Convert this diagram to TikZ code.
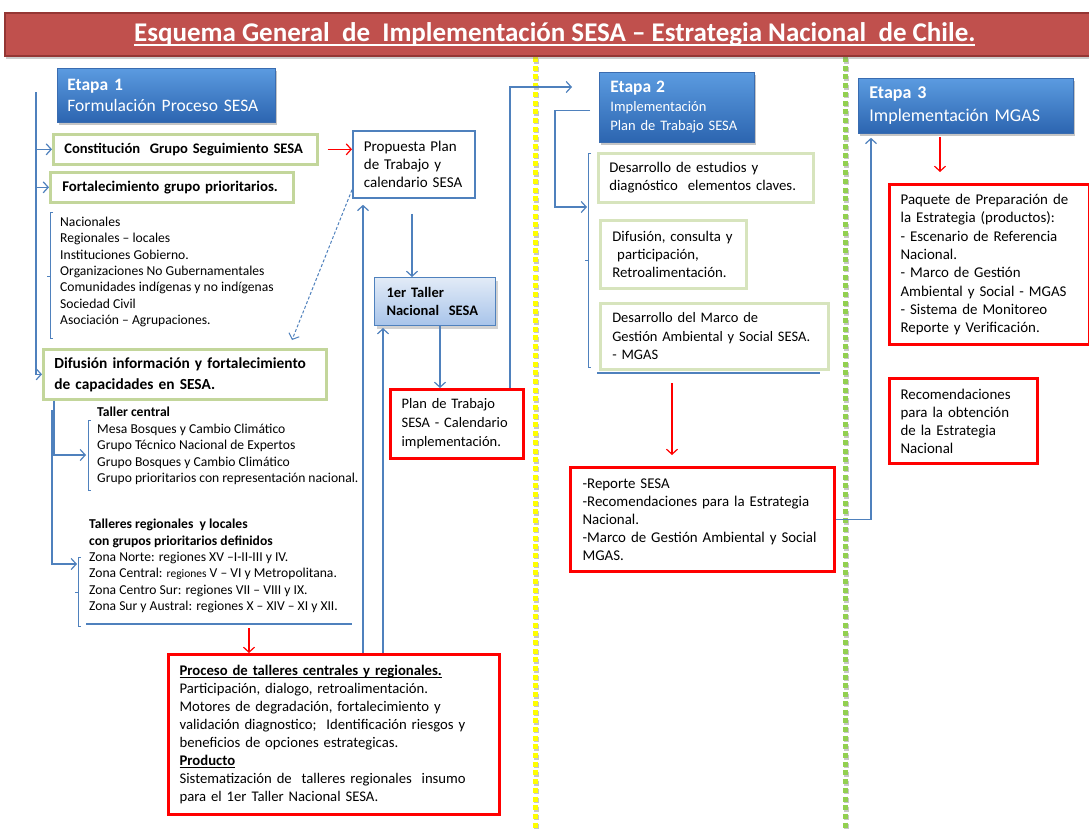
\documentclass[tikz,border=0pt]{standalone}
\usepackage{fontspec}
\setmainfont{Carlito}
\usetikzlibrary{arrows.meta,shadows,calc}
\definecolor{cblue}{HTML}{4F81BD}
\definecolor{gline}{HTML}{C3D69B}
\definecolor{gline2}{HTML}{D7E4BD}
\definecolor{titlered}{HTML}{C0504D}
\definecolor{titleedge}{HTML}{943634}
\definecolor{stagetop}{HTML}{5B9BE0}
\definecolor{stagebot}{HTML}{2C65B0}
\definecolor{stageedge}{HTML}{3A6CB0}
\definecolor{tallertop}{HTML}{E2EBF7}
\definecolor{tallerbot}{HTML}{A8C4EA}
\definecolor{sepyellow}{HTML}{FFFF00}
\definecolor{sepgreen}{HTML}{92D050}
% underline with chosen thickness (#1) and depth below the baseline (#2)
\newsavebox\ulinebox
\newcommand\ulineby[3]{\leavevmode\sbox\ulinebox{#3}\rlap{\rule[-#2]{\wd\ulinebox}{#1}}\usebox\ulinebox}
\begin{document}
\begin{tikzpicture}[x=1pt,y=-1pt,
  box/.style={rectangle, anchor=north west, inner xsep=11pt, inner ysep=0pt, align=left, fill=white},
  greenbox/.style={box, draw=gline, line width=2.6pt},
  palebox/.style={box, draw=gline2, line width=2.6pt},
  redbox/.style={box, draw=red, line width=3.2pt},
  bluebox/.style={box, draw=cblue, line width=1.8pt},
  stagebox/.style={box, draw=stageedge, line width=0.8pt, top color=stagetop, bottom color=stagebot,
    text=white, drop shadow={opacity=0.45, shadow xshift=2pt, shadow yshift=-3pt}},
  tallerbox/.style={box, draw=cblue, line width=1pt, top color=tallertop, bottom color=tallerbot,
    drop shadow={opacity=0.35, shadow xshift=2pt, shadow yshift=-3pt}},
  titlebar/.style={rectangle, anchor=north west, fill=titlered, draw=titleedge, line width=1.5pt,
    drop shadow={opacity=0.4, shadow xshift=1pt, shadow yshift=-3pt}, text=white, inner sep=0pt},
  freetext/.style={anchor=west, inner sep=0pt, align=left},
  conn/.style={draw=cblue, line width=1.2pt},
  arr/.style={conn, -{Straight Barb[length=5pt,width=11pt]}},
  redarr/.style={draw=red, line width=1.2pt, -{Straight Barb[length=5pt,width=11pt]}},
  bracket/.style={draw=cblue, line width=1pt},
  body/.style={font=\fontsize{14.8}{18.3}\selectfont},
]
\useasboundingbox (0,0) rectangle (1089,831);
\fill[white] (0,0) rectangle (1089,831);

% dotted stage separators with a soft shadow
\foreach \xx/\cc in {535/sepyellow, 845/sepgreen} {
  \draw[line width=5pt, black!22, dash pattern=on 5pt off 3.7pt] (\xx+1.5,58.5) -- (\xx+1.5,833);
  \draw[line width=5pt, \cc, dash pattern=on 5pt off 3.7pt] (\xx,57) -- (\xx,831);
}

% title
\node[titlebar, minimum width=1100pt, minimum height=43pt,
  font=\bfseries\fontsize{27}{30}\selectfont] (title) at (4,12)
  {\ulineby{1.7pt}{4.5pt}{Esquema General~ de~ Implementación SESA – Estrategia Nacional~ de Chile.}};

% ---------------- Etapa 1 ----------------
\node[stagebox, minimum width=218pt, minimum height=54pt, inner xsep=10pt, text width=198pt,
  font=\fontsize{17.5}{21}\selectfont] (et1) at (57,68) {\textbf{Etapa 1}\\Formulación Proceso SESA};

\node[greenbox, minimum width=264pt, minimum height=30pt, text width=242pt,
  font=\bfseries\fontsize{14.6}{16}\selectfont] (constit) at (52,133) {Constitución~ Grupo Seguimiento SESA};
\node[greenbox, minimum width=243pt, minimum height=30pt, inner xsep=12pt, text width=219pt,
  font=\bfseries\fontsize{14.8}{16}\selectfont] (fortal) at (49,171) {Fortalecimiento grupo prioritarios.};

\node[freetext, font=\fontsize{13.6}{16.35}\selectfont] (grupos) at (60,272)
  {Nacionales\\Regionales – locales\\Instituciones Gobierno.\\Organizaciones No Gubernamentales\\
   Comunidades indígenas y no indígenas\\Sociedad Civil\\Asociación – Agrupaciones.};

\node[greenbox, minimum width=283pt, minimum height=50pt, text width=261pt,
  font=\bfseries\fontsize{15.4}{21}\selectfont] (difus) at (42,348)
  {Difusión información y fortalecimiento\\de capacidades en SESA.};

\node[freetext, font=\fontsize{13.6}{16.5}\selectfont] (central) at (97,446)
  {\textbf{Taller central}\\Mesa Bosques y Cambio Climático\\Grupo Técnico Nacional de Expertos\\
   Grupo Bosques y Cambio Climático\\Grupo prioritarios con representación nacional.};

\node[freetext, font=\fontsize{13.6}{16.4}\selectfont] (zonas) at (89,566)
  {\textbf{Talleres regionales~ y locales}\\\textbf{con grupos prioritarios definidos}\\
   Zona Norte: regiones XV –I-II-III y IV.\\
   Zona Central: {\fontsize{11.5}{16.4}\selectfont regiones} V – VI y Metropolitana.\\
   Zona Centro Sur: regiones VII – VIII y IX.\\
   Zona Sur y Austral: regiones X – XIV – XI y XII.};

\node[bluebox, minimum width=122pt, minimum height=67pt, text width=100pt,
  font=\fontsize{15}{18.3}\selectfont] (propuesta) at (352,130)
  {Propuesta Plan\\de Trabajo y\\calendario SESA};
\node[tallerbox, minimum width=121pt, minimum height=48pt, inner xsep=12pt, text width=97pt,
  font=\bfseries\fontsize{14.5}{18}\selectfont] (taller1) at (374,277) {1er Taller\\Nacional~ SESA};
\node[redbox, minimum width=133pt, minimum height=69pt, text width=111pt,
  font=\fontsize{14.5}{19}\selectfont] (plan) at (389,388) {Plan de Trabajo\\SESA - Calendario\\implementación.};

\node[redbox, minimum width=331pt, minimum height=160pt, text width=309pt,
  font=\fontsize{14.7}{18}\selectfont] (proceso) at (167,653)
  {\ulineby{0.8pt}{2.4pt}{\textbf{Proceso de talleres centrales y regionales.}}\\
   Participación, dialogo, retroalimentación.\\
   Motores de degradación, fortalecimiento y\\
   validación diagnostico;~ Identificación riesgos y\\
   beneficios de opciones estrategicas.\\
   \ulineby{0.8pt}{2.4pt}{\textbf{Producto}}\\
   Sistematización de~ talleres regionales~ insumo\\
   para el 1er Taller Nacional SESA.};

% ---------------- Etapa 2 ----------------
\node[stagebox, minimum width=155pt, minimum height=70pt, text width=133pt,
  font=\fontsize{14.5}{19}\selectfont] (et2) at (599,72)
  {{\fontsize{17.5}{19}\selectfont\bfseries Etapa 2}\\Implementación\\Plan de Trabajo SESA};
\node[palebox, body, minimum width=215pt, minimum height=49pt, text width=193pt] (des1) at (597,152)
  {Desarrollo de estudios y\\diagnóstico~ elementos claves.};
\node[palebox, body, minimum width=146pt, minimum height=68pt, inner xsep=12pt, text width=122pt] (des2) at (599,219)
  {Difusión, consulta y\\\ participación,\\Retroalimentación.};
\node[palebox, minimum width=228pt, minimum height=66pt, inner xsep=12pt, text width=204pt,
  font=\fontsize{14.5}{18.3}\selectfont] (des3) at (599,302)
  {Desarrollo del Marco de\\Gestión Ambiental y Social SESA.\\- MGAS};
\node[redbox, minimum width=264pt, minimum height=104pt, inner xsep=12pt, text width=240pt,
  font=\fontsize{14.9}{18}\selectfont] (reporte) at (569,466)
  {-Reporte SESA\\-Recomendaciones para la Estrategia\\Nacional.\\-Marco de Gestión Ambiental y Social\\MGAS.};

% ---------------- Etapa 3 ----------------
\node[stagebox, minimum width=215pt, minimum height=55pt, text width=193pt,
  font=\fontsize{18}{23}\selectfont] (et3) at (858,78) {\textbf{Etapa 3}\\Implementación MGAS};
\node[redbox, minimum width=200pt, minimum height=160pt, text width=178pt,
  font=\fontsize{14.9}{18.3}\selectfont] (paquete) at (888,183)
  {Paquete de Preparación de\\la Estrategia (productos):\\- Escenario de Referencia\\Nacional.\\
   - Marco de Gestión\\Ambiental y Social - MGAS\\- Sistema de Monitoreo\\Reporte y Verificación.};
\node[redbox, minimum width=148pt, minimum height=85pt, text width=126pt,
  font=\fontsize{14.9}{18}\selectfont] (recom) at (888,377)
  {Recomendaciones\\para la obtención\\de la Estrategia\\Nacional};

% ---------------- connectors, Etapa 1 ----------------
\coordinate (spine) at (36,92);
\draw[arr] (spine) |- (difus.west);
\draw[arr] (spine |- constit.west) -- (constit.west);
\draw[arr] (spine |- fortal.west) -- (fortal.west);
\draw[bracket] (53,212) -- (50,212) -- (50,338) -- (53,338) (50,276) -- (47,276);

\draw[redarr] ([xshift=9pt]constit.east) -- (propuesta.west |- constit.east);
\coordinate (dashend) at (292,340);
\draw[draw=cblue, line width=1pt, dash pattern=on 3pt off 2pt,
  -{Straight Barb[length=5pt,width=11pt]}] ([yshift=9pt]propuesta.south west) -- (dashend);

\coordinate (centralin) at (86,455);
\coordinate (zonasin) at (77,564);
\coordinate (zonastart) at (52,410);
\draw[arr] (difus.south -| 54,0) |- (centralin);
\draw[arr] (zonastart) |- (zonasin);
\draw[bracket] (91,420) -- (88,420) -- (88,490) -- (91,490);
\draw[bracket] (81,557) -- (78,557) -- (78,626) -- (81,626) (78,592) -- (75,592);
\coordinate (closeL) at (86,624);
\coordinate (closeR) at (352,624);
\draw[conn] (closeL) -- (closeR);
\draw[redarr] (249,628) -- (proceso.north -| 249,0);

\draw[arr] (proceso.north -| 363,0) -- ($(propuesta.south -| 363,0)+(0,6)$);
\draw[arr] (proceso.north -| 383,0) -- ($(taller1.south -| 383,0)+(0,2)$);
\draw[arr] ($(propuesta.south -| 412,0)+(0,15)$) -- (taller1.north -| 412,0);
\draw[arr] (taller1.south -| 440,0) -- (plan.north -| 440,0);

% ---------------- connectors, Etapa 2 and 3 ----------------
\coordinate (et2in) at (572,87);
\draw[arr] (plan.north -| 510,0) |- (et2in);
\coordinate (des-in) at (587,207);
\draw[arr] ($(et2.west)+(-9,3)$) -- ($(et2.west)+(-44,3)$) |- (des-in);
\draw[bracket] (591,153) -- (588,153) -- (588,367) -- (591,367) (588,260) -- (585,260);
\draw[conn] (597,373) -- (820,373);
\draw[redarr] (672,383) -- ($(reporte.north -| 672,0)+(0,-11)$);

\draw[arr] (reporte.east) -| ($(et3.south west)+(13,4)$);
\draw[redarr] ($(et3.south -| 940,0)+(0,3)$) -- ($(paquete.north -| 940,0)+(0,-11)$);
\end{tikzpicture}
\end{document}
